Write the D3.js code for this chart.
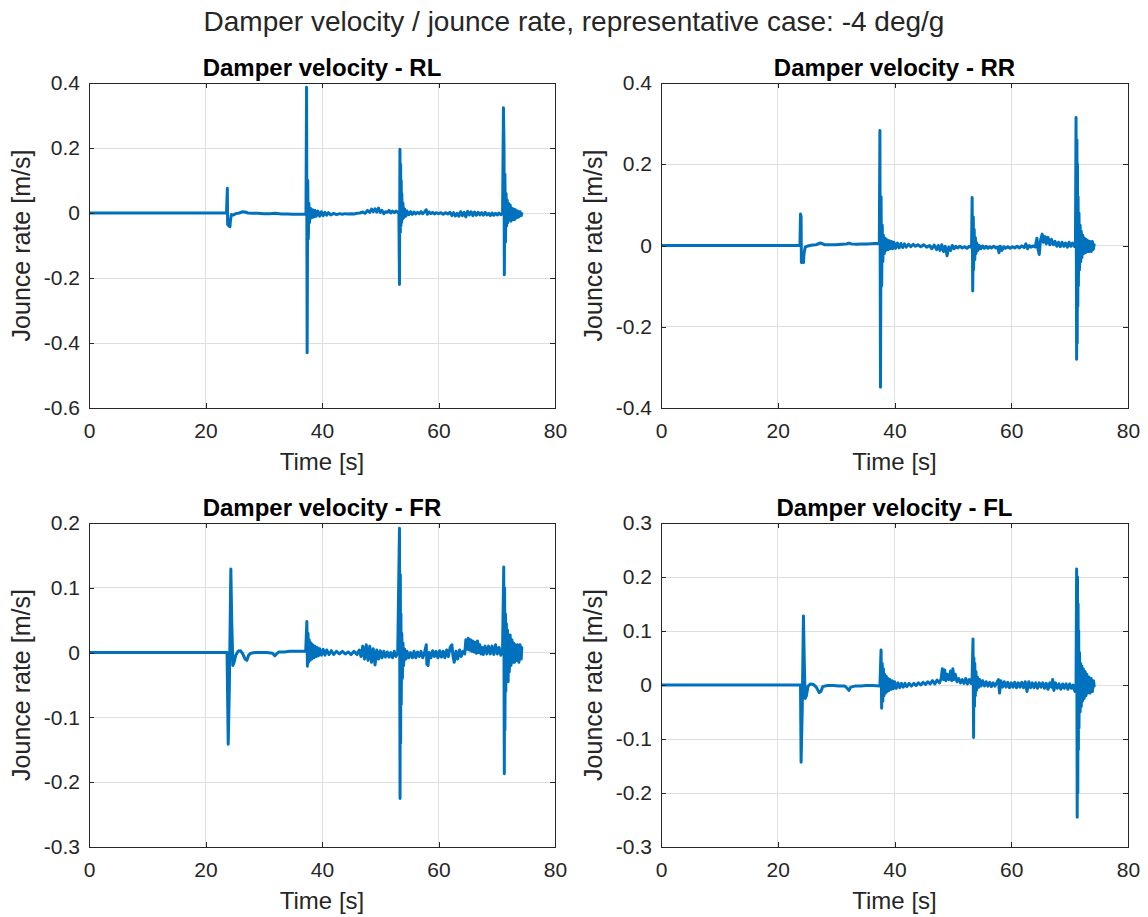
<!DOCTYPE html>
<html>
<head>
<meta charset="utf-8">
<script src="https://cdn.jsdelivr.net/npm/d3@7/dist/d3.min.js"></script>
<style>
  html, body { margin: 0; padding: 0; background: #ffffff; }
  svg { display: block; }
  text { font-family: "Liberation Sans", Arial, Helvetica, sans-serif; }
</style>
</head>
<body>
<svg id="fig" width="1148" height="917"></svg>
<script>
// ---- Data: damper velocity traces, [time s, velocity m/s] ----
const seriesRL = [
  [0,0],[23.6,0],[23.75,0.076],[23.8,-0.035],[24.0,-0.04],[24.2,-0.042],[24.3,-0.02],[24.45,-0.005],
  [24.8,-0.006],[25.2,-0.002],[25.8,0.0],[26.4,0.004],[26.8,0.003],[27.3,0.0],[28,-0.001],[29,-0.001],
  [30,-0.002],[31,-0.002],[32,-0.001],[33,-0.003],[34,-0.003],[35,-0.004],[36,-0.004],[37.25,-0.004],
  [37.35,0.387],[37.45,-0.43],[37.55,0.1],[37.65,-0.08],[37.75,0.03],[37.85,-0.03],[38.0,0.015],[38.2,-0.015],
  [38.4,0.01],[38.6,-0.012],[38.8,0.008],[39.0,-0.01],[39.3,0.006],[39.6,-0.01],[39.9,0.004],[40.2,-0.008],
  [40.5,0.002],[40.8,-0.007],[41.1,0.001],[41.5,-0.006],[42,-0.001],[42.5,-0.005],[43,-0.002],[43.5,-0.004],
  [44,-0.002],[44.5,-0.003],[45,-0.002],[45.5,-0.003],[46,-0.001],[46.5,0.0],[47,0.003],[47.4,-0.001],
  [47.8,0.008],[48.2,0.002],[48.5,0.012],[48.8,0.004],[49.1,0.013],[49.4,0.003],[49.7,0.015],[50,0.002],
  [50.3,0.008],[50.6,-0.002],[50.9,0.004],[51.2,0.002],[51.5,0.008],[51.8,0.0],[52.1,0.006],[52.4,0.001],
  [52.7,0.006],[53.0,0.002],[53.2,0.0],[53.3,-0.22],[53.38,0.196],[53.45,-0.06],[53.5,0.15],[53.55,-0.04],
  [53.6,0.1],[53.65,-0.03],[53.7,0.06],[53.8,-0.02],[53.9,0.03],[54.0,-0.015],[54.2,0.012],[54.4,-0.01],
  [54.6,0.006],[54.9,-0.005],[55.2,0.004],[55.5,-0.004],[55.8,0.003],[56.1,-0.003],[56.4,0.002],[56.7,-0.002],
  [57.0,0.004],[57.3,-0.002],[57.6,0.003],[57.9,0.01],[58.1,-0.004],[58.4,0.003],[58.7,-0.002],[59,0.002],
  [59.3,-0.003],[59.6,0.001],[60,-0.002],[60.4,0.001],[60.8,-0.004],[61.2,0.001],[61.6,-0.003],[62,0.002],
  [62.3,-0.008],[62.6,0.001],[62.9,-0.009],[63.2,-0.001],[63.5,-0.01],[63.8,0.004],[64.1,-0.008],[64.4,0.002],
  [64.7,-0.012],[65,0.005],[65.3,-0.006],[65.6,0.004],[65.9,-0.008],[66.2,0.003],[66.5,-0.007],[66.8,0.002],
  [67.1,-0.006],[67.4,0.001],[67.7,-0.007],[68,0.002],[68.3,-0.006],[68.6,-0.001],[68.9,-0.008],[69.2,0.0],
  [69.5,-0.007],[69.8,-0.001],[70.1,-0.006],[70.4,0.0],[70.7,-0.005],[71.0,-0.002],[71.15,0.324],[71.25,0.2],
  [71.3,-0.19],[71.4,0.12],[71.5,-0.09],[71.6,0.06],[71.7,-0.04],[71.8,0.04],[71.9,-0.03],[72.0,0.03],
  [72.15,-0.02],[72.3,0.025],[72.45,-0.025],[72.6,0.015],[72.75,-0.02],[72.9,0.012],[73.05,-0.02],[73.2,0.01],
  [73.4,-0.015],[73.6,0.006],[73.8,-0.012],[74.0,0.004],[74.2,-0.008],[74.3,-0.002]
];

const seriesRR = [
  [0,0],[23.8,0],[23.9,0.0775],[24.0,0.07],[24.05,-0.042],[24.2,-0.04],[24.4,-0.042],[24.5,-0.02],
  [24.7,-0.004],[25,-0.002],[25.5,0.0],[26,0.001],[26.6,0.002],[27.2,0.006],[27.6,0.005],[28,0.002],
  [29,0.002],[30,0.002],[31,0.003],[31.8,0.004],[32.2,0.006],[32.6,0.004],[33.5,0.003],[34.5,0.004],
  [35.5,0.004],[36.5,0.005],[37.4,0.005],[37.5,0.283],[37.6,-0.349],[37.7,0.12],[37.8,-0.1],[37.9,0.05],
  [38.0,-0.04],[38.1,0.025],[38.25,-0.02],[38.4,0.018],[38.55,-0.012],[38.7,0.014],[38.9,-0.01],[39.1,0.012],
  [39.3,-0.008],[39.5,0.01],[39.7,-0.008],[39.9,0.008],[40.2,-0.007],[40.5,0.006],[40.8,-0.006],[41.1,0.005],
  [41.4,-0.005],[41.7,0.004],[42,-0.004],[42.4,0.003],[42.8,-0.003],[43.2,0.003],[43.6,-0.002],[44,0.002],
  [44.5,-0.003],[45,0.002],[45.5,-0.004],[46,0.0],[46.4,-0.008],[46.8,0.001],[47.2,-0.01],[47.5,0.0],
  [47.8,-0.012],[48.1,0.002],[48.4,-0.015],[48.7,-0.002],[49.0,-0.025],[49.3,-0.004],[49.6,-0.012],[49.9,0.0],
  [50.2,-0.008],[50.5,-0.002],[50.8,-0.006],[51.2,-0.002],[51.6,-0.006],[52,-0.003],[52.4,-0.007],[52.8,-0.002],
  [53.2,-0.005],[53.3,0.118],[53.4,-0.112],[53.5,0.07],[53.55,-0.06],[53.65,0.04],[53.75,-0.035],[53.85,0.02],
  [53.95,-0.02],[54.1,0.006],[54.3,-0.012],[54.5,0.0],[54.8,-0.008],[55.1,-0.001],[55.4,-0.007],[55.7,-0.002],
  [56,-0.007],[56.3,-0.003],[56.6,-0.006],[57,-0.002],[57.4,-0.006],[57.7,-0.004],[57.9,-0.018],[58.1,-0.002],
  [58.4,-0.012],[58.7,-0.003],[59,-0.007],[59.4,-0.003],[59.8,-0.007],[60.2,-0.003],[60.6,-0.006],[61,-0.002],
  [61.4,-0.006],[61.8,-0.001],[62.2,-0.005],[62.5,0.004],[62.8,-0.008],[63.1,0.0],[63.4,-0.004],[63.8,-0.001],
  [64.1,-0.004],[64.4,0.018],[64.6,-0.01],[64.8,-0.022],[65.0,0.012],[65.3,0.028],[65.5,0.008],[65.8,0.022],
  [66.0,0.004],[66.3,0.02],[66.6,0.002],[66.9,0.015],[67.2,0.002],[67.5,0.01],[67.8,-0.002],[68.1,0.008],
  [68.4,-0.003],[68.7,0.008],[69,-0.002],[69.3,0.006],[69.6,-0.004],[69.9,0.008],[70.2,-0.002],[70.5,0.006],
  [70.8,-0.002],[71.0,0.004],[71.1,0.315],[71.2,-0.28],[71.25,0.26],[71.3,-0.24],[71.35,0.2],[71.4,-0.15],
  [71.45,0.12],[71.5,-0.1],[71.6,0.08],[71.7,-0.06],[71.8,0.05],[71.9,-0.04],[72.0,0.035],[72.1,-0.03],
  [72.25,0.025],[72.4,-0.02],[72.55,0.018],[72.7,-0.018],[72.85,0.015],[73.0,-0.015],[73.15,0.012],[73.3,-0.015],
  [73.5,0.01],[73.7,-0.015],[73.9,0.01],[74.05,-0.01],[74.2,0.002]
];

const seriesFR = [
  [0,0],[23.7,0],[23.9,-0.1415],[24.1,-0.05],[24.35,0.129],[24.5,0.05],[24.7,-0.02],[24.9,-0.015],
  [25.2,-0.004],[25.6,0.002],[26,0.003],[26.4,-0.002],[26.8,-0.01],[27.1,-0.012],[27.4,-0.004],[27.8,-0.001],
  [28.5,0.0],[29.5,0.0],[30.5,0.0],[31.5,-0.001],[31.9,-0.005],[32.2,-0.002],[32.6,0.001],[33.5,0.001],
  [34.5,0.002],[35.5,0.002],[36.5,0.002],[37.2,0.002],[37.4,0.048],[37.5,-0.021],[37.6,0.03],[37.7,-0.015],
  [37.8,0.02],[37.95,-0.012],[38.1,0.015],[38.25,-0.01],[38.4,0.012],[38.6,-0.008],[38.8,0.01],[39.0,-0.006],
  [39.2,0.008],[39.4,-0.005],[39.6,0.006],[39.9,-0.004],[40.2,0.005],[40.5,-0.004],[40.8,0.004],[41.2,-0.003],
  [41.6,0.003],[42,-0.003],[42.5,0.002],[43,-0.002],[43.5,0.002],[44,-0.002],[44.5,0.001],[45,-0.003],
  [45.5,0.002],[46,-0.003],[46.4,0.004],[46.7,-0.006],[47,0.01],[47.3,-0.01],[47.6,0.012],[47.9,-0.012],
  [48.2,0.01],[48.5,-0.015],[48.8,0.006],[49.1,-0.019],[49.4,0.004],[49.7,-0.01],[50,0.003],[50.3,-0.008],
  [50.6,0.002],[50.9,-0.007],[51.2,0.001],[51.5,-0.007],[51.8,0.0],[52.1,-0.008],[52.4,0.002],[52.7,-0.006],
  [53.0,0.0],[53.3,0.192],[53.4,-0.225],[53.45,0.12],[53.5,-0.14],[53.55,0.06],[53.6,-0.08],[53.7,0.03],
  [53.8,-0.04],[53.9,0.015],[54.0,-0.02],[54.2,0.005],[54.4,-0.01],[54.6,0.002],[54.9,-0.008],[55.2,0.0],
  [55.5,-0.008],[55.8,0.002],[56.1,-0.008],[56.4,0.001],[56.7,-0.006],[57,0.002],[57.3,-0.008],[57.6,0.0],
  [57.9,0.012],[58.0,-0.018],[58.2,-0.02],[58.4,0.0],[58.7,-0.008],[59,0.003],[59.3,-0.006],[59.6,0.002],
  [59.9,-0.008],[60.2,0.003],[60.5,-0.007],[60.8,0.002],[61.1,-0.008],[61.4,0.004],[61.7,-0.006],[62,0.008],
  [62.3,0.012],[62.5,-0.006],[62.7,-0.015],[63,0.002],[63.3,-0.01],[63.6,0.004],[63.9,-0.006],[64.2,0.002],
  [64.5,-0.002],[64.7,0.02],[64.9,0.005],[65.1,0.022],[65.3,0.004],[65.5,0.02],[65.7,0.002],[65.9,0.018],
  [66.1,0.001],[66.3,0.016],[66.5,-0.001],[66.7,0.018],[66.9,0.0],[67.1,0.012],[67.3,-0.002],[67.5,0.008],
  [67.7,-0.003],[68,0.01],[68.3,-0.002],[68.6,0.01],[68.9,-0.002],[69.2,0.01],[69.5,-0.003],[69.8,0.012],
  [70.1,-0.002],[70.4,0.008],[70.7,-0.004],[71.0,0.006],[71.2,0.132],[71.3,-0.187],[71.35,0.1],[71.4,-0.12],
  [71.5,0.06],[71.55,-0.06],[71.65,0.045],[71.75,-0.04],[71.85,0.035],[71.95,-0.045],[72.05,0.025],[72.15,-0.03],
  [72.3,0.027],[72.45,-0.02],[72.6,0.02],[72.75,-0.015],[72.9,0.015],[73.05,-0.015],[73.2,0.012],[73.4,-0.012],
  [73.6,0.012],[73.8,-0.015],[74.0,0.012],[74.2,-0.01],[74.3,0.008]
];

const seriesFL = [
  [0,0],[23.9,0],[24.0,-0.143],[24.2,-0.04],[24.4,0.128],[24.55,0.04],[24.7,-0.025],[24.9,-0.02],
  [25.2,-0.002],[25.6,0.002],[26.1,0.001],[26.6,-0.004],[27.1,-0.014],[27.4,-0.012],[27.7,-0.003],[28.5,-0.001],
  [29.5,-0.001],[30.5,-0.002],[31.5,-0.002],[31.9,-0.006],[32.2,-0.01],[32.5,-0.004],[33.2,-0.002],[34.2,-0.002],
  [35.2,-0.001],[36.2,-0.001],[37.5,-0.002],[37.7,0.065],[37.8,-0.043],[37.9,0.04],[38.0,-0.03],[38.1,0.03],
  [38.2,-0.02],[38.3,0.02],[38.45,-0.015],[38.6,0.016],[38.75,-0.012],[38.9,0.012],[39.05,-0.01],[39.2,0.01],
  [39.4,-0.008],[39.6,0.008],[39.8,-0.007],[40,0.006],[40.3,-0.006],[40.6,0.004],[40.9,-0.005],[41.2,0.003],
  [41.5,-0.004],[41.8,0.003],[42.1,-0.003],[42.5,0.003],[42.9,-0.002],[43.3,0.003],[43.7,-0.001],[44.1,0.004],
  [44.5,0.0],[44.9,0.005],[45.3,0.001],[45.7,0.006],[46.1,0.002],[46.5,0.008],[46.9,0.002],[47.3,0.009],
  [47.7,0.004],[48.0,0.012],[48.2,0.03],[48.4,0.01],[48.6,0.028],[48.8,0.008],[49.0,0.02],[49.3,0.01],
  [49.6,0.026],[49.8,0.008],[50.0,0.03],[50.2,0.01],[50.4,0.02],[50.7,0.006],[51.0,0.012],[51.3,0.004],
  [51.6,0.01],[51.9,0.003],[52.2,0.012],[52.5,0.002],[52.8,0.01],[53.1,0.003],[53.3,0.015],[53.45,0.085],
  [53.55,-0.097],[53.6,0.05],[53.7,-0.04],[53.75,0.04],[53.85,-0.02],[53.95,0.025],[54.05,-0.01],[54.2,0.015],
  [54.4,-0.004],[54.6,0.01],[54.8,-0.002],[55.1,0.008],[55.4,-0.002],[55.7,0.006],[56,-0.002],[56.3,0.005],
  [56.6,-0.003],[56.9,0.004],[57.2,-0.002],[57.5,0.004],[57.8,0.01],[58.0,-0.015],[58.2,0.008],[58.5,-0.004],
  [58.8,0.006],[59.1,-0.004],[59.4,0.005],[59.7,-0.005],[60,0.004],[60.3,-0.004],[60.6,0.005],[60.9,-0.005],
  [61.2,0.004],[61.5,-0.004],[61.8,0.005],[62.1,-0.005],[62.4,0.006],[62.7,-0.012],[63.0,0.006],[63.3,-0.005],
  [63.6,0.004],[63.9,-0.005],[64.2,0.004],[64.5,-0.006],[64.8,0.004],[65.1,-0.004],[65.4,0.004],[65.7,-0.006],
  [66.0,0.003],[66.3,-0.008],[66.6,0.004],[66.9,-0.004],[67.1,0.01],[67.3,-0.01],[67.6,0.004],[67.9,-0.006],
  [68.2,0.002],[68.5,-0.008],[68.8,0.002],[69.1,-0.006],[69.4,0.002],[69.7,-0.008],[70,0.002],[70.3,-0.006],
  [70.6,0.0],[70.9,-0.012],[71.1,0.0],[71.2,0.215],[71.3,-0.245],[71.35,0.2],[71.4,-0.2],[71.45,0.15],
  [71.5,-0.12],[71.55,0.1],[71.6,-0.08],[71.7,0.06],[71.8,-0.05],[71.9,0.04],[72.0,-0.04],[72.1,0.035],
  [72.2,-0.03],[72.35,0.03],[72.5,-0.025],[72.65,0.025],[72.8,-0.02],[72.95,0.02],[73.1,-0.015],[73.3,0.015],
  [73.5,-0.015],[73.7,0.012],[73.9,-0.012],[74.1,0.008],[74.2,-0.002]
];

// ---- Axis ticks and labels ----
const xTicks = [0, 20, 40, 60, 80];
const yTicksRL = [-0.6, -0.4, -0.2, 0, 0.2, 0.4];
const yTicksRR = [-0.4, -0.2, 0, 0.2, 0.4];
const yTicksFR = [-0.3, -0.2, -0.1, 0, 0.1, 0.2];
const yTicksFL = [-0.3, -0.2, -0.1, 0, 0.1, 0.2, 0.3];
const panelTitles = ["Damper velocity - RL", "Damper velocity - RR", "Damper velocity - FR", "Damper velocity - FL"];
const figureTitle = "Damper velocity / jounce rate, representative case: -4 deg/g";
const xLabel = "Time [s]";
const yLabel = "Jounce rate [m/s]";

// ---- Layout ----
const colLeft = [{x0: 89, x1: 555}, {x0: 661, x1: 1128}];
const rowTop = [{y0: 83, y1: 408}, {y0: 523, y1: 847}];
const lineColor = "#0072BD";
const inkColor = "#262626";
const gridColor = "#dfdfdf";

const panels = [
  {title: panelTitles[0], data: seriesRL, yTicks: yTicksRL, col: 0, row: 0},
  {title: panelTitles[1], data: seriesRR, yTicks: yTicksRR, col: 1, row: 0},
  {title: panelTitles[2], data: seriesFR, yTicks: yTicksFR, col: 0, row: 1},
  {title: panelTitles[3], data: seriesFL, yTicks: yTicksFL, col: 1, row: 1}
];

const fmt = v => (Math.abs(v) < 1e-9 ? "0" : String(+v.toFixed(2)));

const svg = d3.select("#fig");

svg.append("text")
  .attr("x", 574).attr("y", 31)
  .attr("text-anchor", "middle")
  .attr("fill", inkColor)
  .style("font-size", "28px")
  .text(figureTitle);

panels.forEach((p, i) => {
  const c = colLeft[p.col], r = rowTop[p.row];
  const w = c.x1 - c.x0, h = r.y1 - r.y0;
  const x = d3.scaleLinear().domain([0, 80]).range([0, w]);
  const y = d3.scaleLinear().domain(d3.extent(p.yTicks)).range([h, 0]);

  const g = svg.append("g").attr("transform", `translate(${c.x0},${r.y0})`);

  // grid
  g.append("g").selectAll("line.vx").data(xTicks).join("line")
    .attr("x1", d => x(d)).attr("x2", d => x(d)).attr("y1", 0).attr("y2", h)
    .attr("stroke", gridColor).attr("stroke-width", 1).attr("shape-rendering", "crispEdges");
  g.append("g").selectAll("line.hy").data(p.yTicks).join("line")
    .attr("x1", 0).attr("x2", w).attr("y1", d => y(d)).attr("y2", d => y(d))
    .attr("stroke", gridColor).attr("stroke-width", 1).attr("shape-rendering", "crispEdges");

  // trace
  const clipId = "clip" + i;
  g.append("clipPath").attr("id", clipId)
    .append("rect").attr("x", 0).attr("y", 0).attr("width", w).attr("height", h);
  const line = d3.line().x(d => x(d[0])).y(d => y(d[1]));
  g.append("path")
    .datum(p.data)
    .attr("clip-path", `url(#${clipId})`)
    .attr("d", line)
    .attr("fill", "none")
    .attr("stroke", lineColor)
    .attr("stroke-width", 3)
    .attr("stroke-linejoin", "round")
    .attr("stroke-linecap", "round");

  // axes (ticks pointing inward on all four sides)
  const styleAxis = sel => {
    sel.select(".domain").remove();
    sel.selectAll(".tick line").attr("stroke", inkColor).attr("shape-rendering", "crispEdges");
    sel.selectAll(".tick text").attr("fill", inkColor).style("font-size", "21px")
      .style("font-family", "'Liberation Sans', Arial, sans-serif");
  };
  g.append("g").attr("transform", `translate(0,${h})`)
    .call(d3.axisBottom(x).tickValues(xTicks).tickFormat(fmt).tickSize(-5).tickPadding(15))
    .call(styleAxis);
  g.append("g")
    .call(d3.axisTop(x).tickValues(xTicks).tickFormat("").tickSize(-5))
    .call(styleAxis);
  g.append("g")
    .call(d3.axisLeft(y).tickValues(p.yTicks).tickFormat(fmt).tickSize(-5).tickPadding(9))
    .call(styleAxis);
  g.append("g").attr("transform", `translate(${w},0)`)
    .call(d3.axisRight(y).tickValues(p.yTicks).tickFormat("").tickSize(-5))
    .call(styleAxis);

  // box
  g.append("rect").attr("x", 0.5).attr("y", 0.5).attr("width", w).attr("height", h)
    .attr("fill", "none").attr("stroke", inkColor).attr("stroke-width", 1)
    .attr("shape-rendering", "crispEdges");

  // panel title
  g.append("text")
    .attr("x", w / 2).attr("y", -7)
    .attr("text-anchor", "middle")
    .attr("fill", "#000000")
    .style("font-size", "24px").style("font-weight", "bold")
    .text(p.title);

  // axis labels
  g.append("text")
    .attr("x", w / 2).attr("y", h + 62)
    .attr("text-anchor", "middle")
    .attr("fill", inkColor)
    .style("font-size", "24px")
    .text(xLabel);
  g.append("text")
    .attr("transform", `translate(${30 - c.x0 + (p.col === 1 ? 572 : 0)},${h / 2}) rotate(-90)`)
    .attr("text-anchor", "middle")
    .attr("fill", inkColor)
    .style("font-size", "25px")
    .text(yLabel);
});
</script>
</body>
</html>
